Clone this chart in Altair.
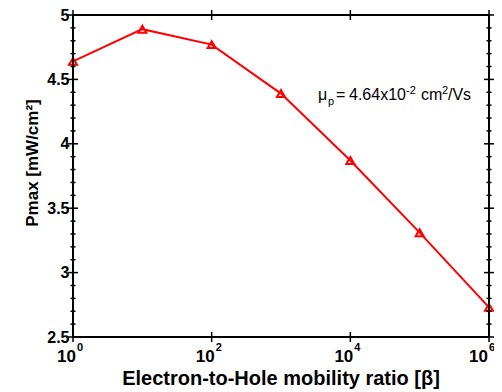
import altair as alt
import pandas as pd

# data
beta = [1, 10, 100, 1000, 10000, 100000, 1000000]
pmax = [4.64, 4.89, 4.77, 4.39, 3.87, 3.31, 2.73]

x_tick_vals = [1, 100, 10000, 1000000]
x_tick_exps = ["0", "2", "4", "6"]
y_major = [2.5, 3.0, 3.5, 4.0, 4.5, 5.0]
y_minor = [2.6, 2.7, 2.8, 2.9, 3.1, 3.2, 3.3, 3.4, 3.6, 3.7, 3.8, 3.9,
           4.1, 4.2, 4.3, 4.4, 4.6, 4.7, 4.8, 4.9]
x_domain = [1, 1000000]
y_domain = [2.5, 5.0]

ann_texts = ["μ", "p", "=", "4.64x10", "-2", "cm", "2", "/Vs"]
ann_x = [245, 255, 263, 276, 333, 348, 369, 375]
ann_y = [85, 90, 85, 85, 79, 85, 79, 85]
ann_size = [16, 11, 16, 16, 11, 16, 11, 16]

W, H = 416, 322
FONT = "Liberation Sans"

df = pd.DataFrame({"beta": beta, "pmax": pmax})
xdf = pd.DataFrame({"v": x_tick_vals, "e": x_tick_exps})
ymaj = pd.DataFrame({"v": y_major})
ymin = pd.DataFrame({"v": y_minor})
xedge = pd.DataFrame({"v": x_domain})
yedge = pd.DataFrame({"v": y_domain})
ann = pd.DataFrame({"t": ann_texts, "x": ann_x, "y": ann_y, "s": ann_size})
one = pd.DataFrame({"k": [0]})

xs = alt.Scale(type="log", domain=x_domain, nice=False)
ys = alt.Scale(domain=y_domain, nice=False, zero=False)

xenc = alt.X("beta:Q", scale=xs, axis=None)
yenc = alt.Y("pmax:Q", scale=ys,
             axis=alt.Axis(values=y_major, format="~g", ticks=False, domain=False,
                           grid=False, labelFont=FONT, labelFontSize=16,
                           labelFontWeight="bold", labelColor="black",
                           labelPadding=4, title=None))

line = alt.Chart(df).mark_line(color="#ff0000", strokeWidth=2).encode(x=xenc, y=yenc)
pts = alt.Chart(df).mark_point(shape="triangle-up", filled=False, color="#ff0000",
                               strokeWidth=2, size=65, opacity=1).encode(
    x=alt.X("beta:Q", scale=xs, axis=None), y=alt.Y("pmax:Q", scale=ys))

# frame edges as long ticks at the axis limits
vframe = alt.Chart(xedge).mark_tick(orient="vertical", color="black",
                                    thickness=2, size=H + 2, opacity=1).encode(
    x=alt.X("v:Q", scale=xs), y=alt.value(H / 2))
hframe = alt.Chart(yedge).mark_tick(orient="horizontal", color="black",
                                    thickness=2, size=W + 2, opacity=1).encode(
    y=alt.Y("v:Q", scale=ys), x=alt.value(W / 2))

# inward ticks
def ytick(data, xc, length):
    return alt.Chart(data).mark_tick(orient="horizontal", color="black",
                                     thickness=1.5, size=length, opacity=1).encode(
        y=alt.Y("v:Q", scale=ys), x=alt.value(xc))

def xtick(yc):
    return alt.Chart(xdf).mark_tick(orient="vertical", color="black",
                                    thickness=1.5, size=10, opacity=1).encode(
        x=alt.X("v:Q", scale=xs), y=alt.value(yc))

ticks = [ytick(ymaj, 0, 10), ytick(ymaj, W, 10), ytick(ymin, 0, 5),
         ytick(ymin, W, 5), xtick(0), xtick(H)]

# x labels 10^n (last one nudged left to stay inside the page)
def xlabels(filt, shift):
    base = alt.Chart(xdf).transform_filter(filt)
    ten = base.mark_text(font=FONT, fontSize=17, fontWeight="bold",
                         align="right", baseline="alphabetic", dx=3 + shift,
                         color="black").encode(
        x=alt.X("v:Q", scale=xs), y=alt.value(H + 25), text=alt.value("10"))
    ex = base.mark_text(font=FONT, fontSize=11, fontWeight="bold",
                        align="left", baseline="alphabetic", dx=4 + shift,
                        color="black").encode(
        x=alt.X("v:Q", scale=xs), y=alt.value(H + 14), text="e:N")
    return [ten, ex]

xl = xlabels(alt.datum.v < 1000000, 0) + xlabels(alt.datum.v >= 1000000, -4)

# axis titles
xtitle = alt.Chart(one).mark_text(font=FONT, fontSize=20, fontWeight="bold",
                                  align="center", baseline="alphabetic",
                                  color="black").encode(
    x=alt.value(W / 2), y=alt.value(H + 48),
    text=alt.value("Electron-to-Hole mobility ratio [β]"))
ytitle = alt.Chart(one).mark_text(font=FONT, fontSize=17, fontWeight="bold",
                                  align="center", baseline="alphabetic",
                                  angle=270, color="black").encode(
    x=alt.value(-35), y=alt.value(148), text=alt.value("Pmax [mW/cm²]"))

# annotation
annot = alt.Chart(ann).mark_text(font=FONT, align="left", baseline="alphabetic",
                                 color="black").encode(
    x=alt.X("x:Q", scale=None), y=alt.Y("y:Q", scale=None), text="t:N",
    size=alt.Size("s:Q", scale=None, legend=None))

chart = alt.layer(line, pts, vframe, hframe, *ticks, *xl,
                  xtitle, ytitle, annot).properties(
    width=W, height=H,
    background="white",
    autosize=alt.AutoSizeParams(type="none"),
    padding={"left": 65, "top": 7, "right": 5, "bottom": 54},
)

chart.save("out.html", embed_options={"renderer": "svg", "actions": False})
